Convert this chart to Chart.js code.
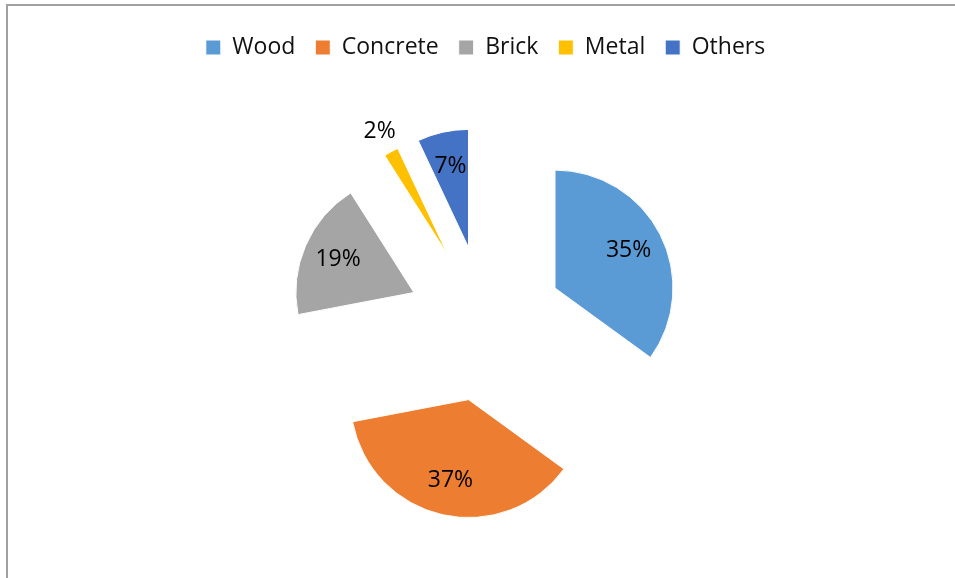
<!DOCTYPE html>
<html>
<head>
<meta charset="utf-8">
<script src="https://cdn.jsdelivr.net/npm/chart.js@4"></script>
<style>
    html, body { margin: 0; padding: 0; background: #fff; }
    #marco { position: absolute; left: 0; top: 0; width: 955px; height: 578px; }
    #borde { position: absolute; left: 6px; top: 4px; right: 0; bottom: 0;
             border-left: 2px solid #a0a0a0; border-top: 2px solid #a0a0a0; pointer-events: none; }
</style>
</head>
<body>
<div id="marco">
    <canvas id="grafico-materiales" width="955" height="578"></canvas>
    <div id="borde"></div>
</div>
<script>
// --- Datos del gráfico ---
const categorias = ['Wood', 'Concrete', 'Brick', 'Metal', 'Others'];
const porcentajes = [35, 37, 19, 2, 7];
const colores = ['#5B9BD5', '#ED7D31', '#A5A5A5', '#FFC000', '#4472C4'];

// separación de las porciones (px) y tamaño del pastel
const DESPLAZAMIENTO = 78;
const RADIO = 118;

// Mueve cada porción hacia afuera desde el centro (pastel "explotado")
const pluginExplotar = {
    id: 'explotar',
    afterDatasetUpdate(chart, args) {
        args.meta.data.forEach(arco => {
            const medio = (arco.startAngle + arco.endAngle) / 2;
            arco.x += Math.cos(medio) * DESPLAZAMIENTO;
            arco.y += Math.sin(medio) * DESPLAZAMIENTO;
        });
    }
};

// Etiquetas de porcentaje dentro (o fuera) de cada porción
const pluginEtiquetas = {
    id: 'etiquetas',
    afterDatasetsDraw(chart) {
        const ctx = chart.ctx;
        const meta = chart.getDatasetMeta(0);
        ctx.save();
        ctx.font = '23px "Open Sans"';
        ctx.fillStyle = '#000';
        ctx.textAlign = 'center';
        ctx.textBaseline = 'middle';
        meta.data.forEach((arco, i) => {
            const medio = (arco.startAngle + arco.endAngle) / 2;
            const k = porcentajes[i] < 5 ? 1.2 : 0.7;
            const x = arco.x + Math.cos(medio) * arco.outerRadius * k;
            const y = arco.y + Math.sin(medio) * arco.outerRadius * k;
            ctx.fillText(porcentajes[i] + '%', x, y);
        });
        ctx.restore();
    }
};

const ctxPastel = document.getElementById('grafico-materiales').getContext('2d');
new Chart(ctxPastel, {
    type: 'pie',
    data: {
        labels: categorias,
        datasets: [{
            data: porcentajes,
            backgroundColor: colores,
            borderColor: '#ffffff',
            borderWidth: 1
        }]
    },
    options: {
        responsive: false,
        animation: false,
        radius: RADIO,
        layout: { padding: { left: 16, right: 0, top: 16, bottom: -9 } },
        plugins: {
            legend: {
                position: 'top',
                labels: {
                    boxWidth: 15,
                    boxHeight: 15,
                    padding: 20,
                    color: '#111',
                    font: { family: '"Open Sans"', size: 23 }
                }
            },
            tooltip: { enabled: false }
        }
    },
    plugins: [pluginExplotar, pluginEtiquetas]
});
</script>
</body>
</html>
